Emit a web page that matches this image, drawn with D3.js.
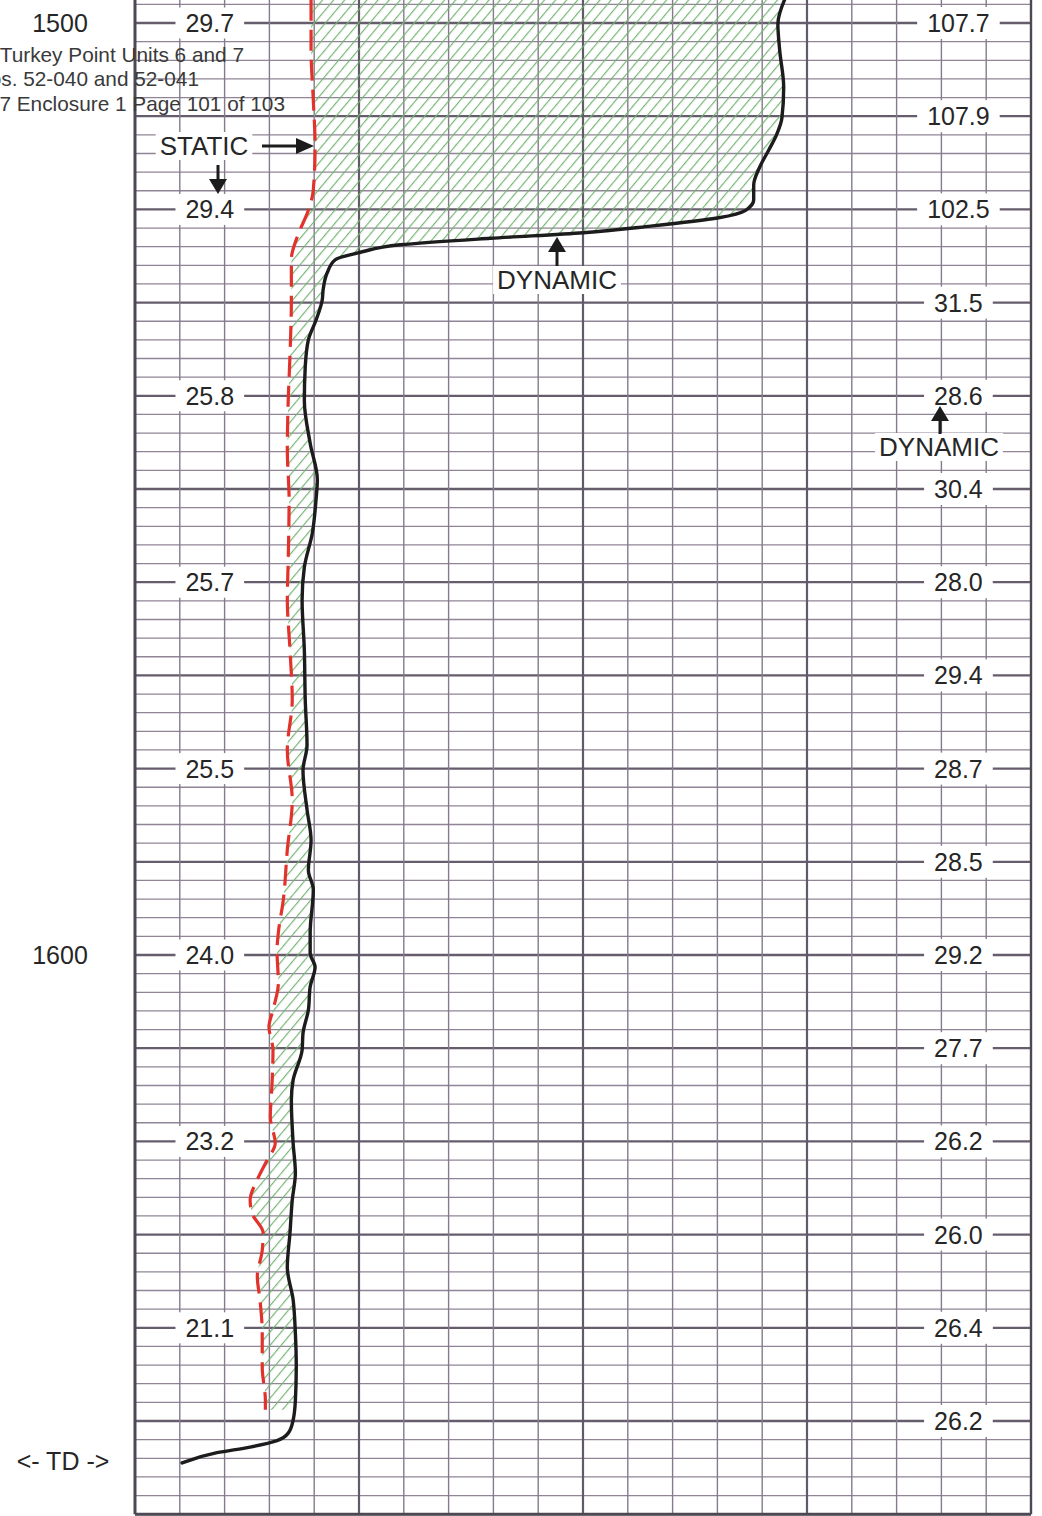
<!DOCTYPE html>
<html><head><meta charset="utf-8">
<script src="https://cdn.jsdelivr.net/npm/d3@7"></script>
<style>
body{margin:0;background:#fff;}
svg{display:block;}
text{font-family:"Liberation Sans",Arial,Helvetica,sans-serif;fill:#262626;}
</style>
</head><body>
<svg id="c" width="1042" height="1516"></svg>
<script>
// ---- data ----
// Static (red dashed) curve: depth (ft) and reading (chart divisions)
const staticDepth = [1497.5,1502.9,1508.3,1513.2,1517.9,1520.1,1522.7,1525.4,1529.7,1535.6,1540.5,1545.8,1551.2,1557.6,1561.9,1567.3,1572.6,1578.0,1583.4,1588.7,1594.1,1597.6,1599.5,1603.0,1605.9,1607.7,1610.2,1613.7,1617.4,1620.2,1622.0,1624.1,1626.3,1627.7,1629.8,1631.7,1634.5,1637.0,1640.6,1644.2,1647.8,1648.8];
const staticValue = [3.93,3.93,3.98,4.02,3.98,3.87,3.64,3.49,3.49,3.46,3.42,3.40,3.44,3.42,3.40,3.46,3.51,3.40,3.51,3.40,3.31,3.20,3.17,3.20,3.08,2.99,3.08,3.06,3.02,3.13,2.95,2.73,2.57,2.61,2.86,2.84,2.73,2.79,2.84,2.84,2.91,2.91];
// Dynamic (black) curve
const dynamicDepth = [1497.5,1500.1,1502.9,1506.9,1510.2,1512.0,1513.6,1515.5,1517.4,1519.0,1520.1,1520.9,1521.8,1522.5,1523.1,1523.8,1524.6,1525.4,1526.8,1528.6,1529.7,1531.9,1534.0,1536.9,1540.5,1545.1,1549.0,1551.2,1554.7,1558.4,1561.9,1567.3,1572.6,1577.5,1580.2,1584.4,1587.7,1590.9,1593.0,1597.6,1599.8,1601.3,1603.4,1605.9,1608.4,1610.2,1613.4,1615.6,1620.2,1623.4,1626.3,1629.8,1633.5,1637.0,1640.6,1644.2,1647.8,1649.9,1651.3,1652.1,1652.8,1653.4,1654.5];
const dynamicValue = [14.50,14.35,14.39,14.48,14.44,14.32,14.15,13.94,13.81,13.81,13.63,13.03,11.51,10.01,7.93,5.92,5.03,4.47,4.29,4.20,4.18,4.04,3.87,3.80,3.78,3.91,4.07,4.04,3.96,3.78,3.73,3.78,3.80,3.84,3.75,3.84,3.93,3.87,3.98,3.91,3.91,4.02,3.91,3.87,3.75,3.73,3.53,3.49,3.53,3.58,3.51,3.46,3.40,3.53,3.58,3.60,3.58,3.53,3.42,3.17,2.57,1.83,1.05];
// Tick labels
const leftLabelDepths = [1500,1520,1540,1560,1580,1600,1620,1640];
const leftLabels = ["29.7","29.4","25.8","25.7","25.5","24.0","23.2","21.1"];
const rightLabelDepths = [1500,1510,1520,1530,1540,1550,1560,1570,1580,1590,1600,1610,1620,1630,1640,1650];
const rightLabels = ["107.7","107.9","102.5","31.5","28.6","30.4","28.0","29.4","28.7","28.5","29.2","27.7","26.2","26.0","26.4","26.2"];
const depthLabelDepths = [1500,1600];
const depthLabels = ["1500","1600"];
const headerLines = ["Turkey Point Units 6 and 7","Nos. 52-040 and 52-041","7 Enclosure 1 Page 101 of 103"];

// ---- scales ----
const svg = d3.select("#c");
const y = d3.scaleLinear().domain([1500,1600]).range([23,955]);
const x = d3.scaleLinear().domain([0,20]).range([135,1031]);
const dTop = 1497.5, dBot = 1660;

svg.append("rect").attr("width",1042).attr("height",1516).attr("fill","#fff");

// hatch pattern
const defs = svg.append("defs");
const pat = defs.append("pattern").attr("id","hatch")
  .attr("patternUnits","userSpaceOnUse").attr("width",8.5).attr("height",20)
  .attr("patternTransform","rotate(40)");
pat.append("line").attr("x1",0.6).attr("y1",0).attr("x2",0.6).attr("y2",20)
  .attr("stroke","#72b472").attr("stroke-width",1.15);

// ---- grid ----
const grid = svg.append("g");
const hTicks = d3.range(1498, 1661, 2);
grid.selectAll("line.h").data(hTicks).join("line")
  .attr("x1",x(0)).attr("x2",x(20))
  .attr("y1",d=>y(d)).attr("y2",d=>y(d))
  .attr("stroke",d=>d%10===0?"#665d6c":"#8f8596")
  .attr("stroke-width",d=>d%10===0?2.3:1.3);
const vTicks = d3.range(0,21);
grid.selectAll("line.v").data(vTicks).join("line")
  .attr("x1",d=>x(d)).attr("x2",d=>x(d))
  .attr("y1",0).attr("y2",y(dBot))
  .attr("stroke",d=>(d===0||d===20)?"#4e4854":(d%5===0?"#625a69":"#857b8c"))
  .attr("stroke-width",d=>(d===0)?3:(d===20?2.4:(d%5===0?2.2:1.4)));
// bottom border
grid.append("line").attr("x1",x(0)).attr("x2",x(20)).attr("y1",y(dBot)).attr("y2",y(dBot))
  .attr("stroke","#4e4854").attr("stroke-width",3);

// ---- hatch fill between curves ----
const stat = staticDepth.map((d,i)=>[d,staticValue[i]]);
const dyn = dynamicDepth.map((d,i)=>[d,dynamicValue[i]]);
const endD = staticDepth[staticDepth.length-1];
const dynAt = d3.scaleLinear().domain(dynamicDepth).range(dynamicValue);
const dynPart = dyn.filter(p=>p[0]<endD);
dynPart.push([endD, dynAt(endD)]);
const lineM = d3.line().x(p=>x(p[1])).y(p=>y(p[0])).curve(d3.curveMonotoneY);
const fillPath = lineM(stat) + lineM(dynPart.slice().reverse()).replace(/^M/,"L") + "Z";
svg.append("path").attr("d",fillPath).attr("fill","url(#hatch)").attr("stroke","none");

// ---- curves ----
svg.append("path").attr("d",lineM(stat)).attr("fill","none")
  .attr("stroke","#e2322b").attr("stroke-width",3.2).attr("stroke-dasharray","21,9");
svg.append("path").attr("d",lineM(dyn)).attr("fill","none")
  .attr("stroke","#1c1c1c").attr("stroke-width",3.4).attr("stroke-linecap","round").attr("stroke-linejoin","round");

// ---- labels with white boxes ----
function boxedLabel(g, cx, cy, txt, size, padX, boxH){
  const t = g.append("text").attr("x",cx).attr("y",cy).attr("text-anchor","middle")
    .attr("dominant-baseline","central").attr("font-size",size).text(txt);
  const bb = t.node().getBBox();
  g.insert("rect","text").attr("x",bb.x-padX).attr("y",cy-boxH/2)
    .attr("width",bb.width+2*padX).attr("height",boxH).attr("fill","#fff");
  return t;
}
const lab = svg.append("g");
leftLabelDepths.forEach((d,i)=>{
  const g = lab.append("g");
  boxedLabel(g, x(1.67), y(d), leftLabels[i], 25, 10, 31);
});
rightLabelDepths.forEach((d,i)=>{
  const g = lab.append("g");
  boxedLabel(g, x(18.38), y(d), rightLabels[i], 25, 10, 32);
});
depthLabelDepths.forEach((d,i)=>{
  lab.append("text").attr("x",60).attr("y",y(d)).attr("text-anchor","middle")
    .attr("dominant-baseline","central").attr("font-size",25).text(depthLabels[i]);
});
lab.append("text").attr("x",63).attr("y",1461).attr("text-anchor","middle")
  .attr("dominant-baseline","central").attr("font-size",25).text("<- TD ->");

// annotations
const ann = svg.append("g");
boxedLabel(ann.append("g"), 204, 146, "STATIC", 26, 4, 28);
boxedLabel(ann.append("g"), 557, 280, "DYNAMIC", 26, 4, 28);
boxedLabel(ann.append("g"), 939, 447, "DYNAMIC", 26, 4, 28);
// arrows
const ac = "#1c1c1c";
ann.append("line").attr("x1",262).attr("x2",300).attr("y1",146).attr("y2",146).attr("stroke",ac).attr("stroke-width",3);
ann.append("path").attr("d","M296,138L314,146L296,154Z").attr("fill",ac);
ann.append("line").attr("x1",218).attr("x2",218).attr("y1",165).attr("y2",182).attr("stroke",ac).attr("stroke-width",3);
ann.append("path").attr("d","M209,179L227,179L218,194Z").attr("fill",ac);
ann.append("line").attr("x1",557).attr("x2",557).attr("y1",266).attr("y2",248).attr("stroke",ac).attr("stroke-width",3);
ann.append("path").attr("d","M548,252L566,252L557,237Z").attr("fill",ac);
ann.append("line").attr("x1",940).attr("x2",940).attr("y1",434).attr("y2",417).attr("stroke",ac).attr("stroke-width",3);
ann.append("path").attr("d","M931,421L949,421L940,406Z").attr("fill",ac);

// header text
const hdrEnd = [244,199,285];
const hdrY = [62,86,111];
headerLines.forEach((s,i)=>{
  svg.append("text").attr("x",hdrEnd[i]).attr("y",hdrY[i]).attr("text-anchor","end")
    .attr("font-size",20.8).style("fill","#3a3a3a").text(s);
});
</script>
</body></html>
